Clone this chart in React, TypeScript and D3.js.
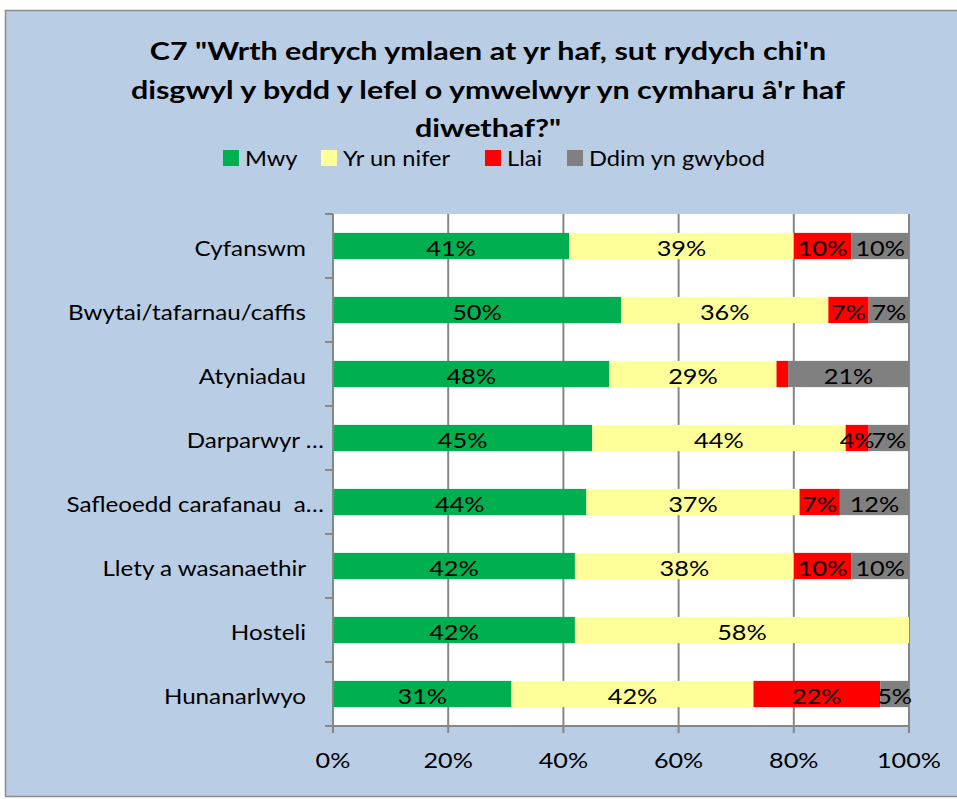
import React from "react";
import * as d3 from "d3";

const categories = [
  "Cyfanswm",
  "Bwytai/tafarnau/caffis ",
  "Atyniadau",
  "Darparwyr …",
  "Safleoedd carafanau  a…",
  "Llety a wasanaethir ",
  "Hosteli",
  "Hunanarlwyo",
];
const seriesNames = ["Mwy", "Yr un nifer", "Llai", "Ddim yn gwybod"];
const seriesColors = ["#00B050", "#FFFF99", "#FF0000", "#808080"];
const mwy = [41, 50, 48, 45, 44, 42, 42, 31];
const yrUnNifer = [39, 36, 29, 44, 37, 38, 58, 42];
const llai = [10, 7, 2, 4, 7, 10, 0, 22];
const ddimYnGwybod = [10, 7, 21, 7, 12, 10, 0, 5];
const showLabel = [
  [true, true, true, true],
  [true, true, true, true],
  [true, true, false, true],
  [true, true, true, true],
  [true, true, true, true],
  [true, true, true, true],
  [true, true, false, false],
  [true, true, true, true],
];
const xTicks = [0, 0.2, 0.4, 0.6, 0.8, 1];
const titleLines = [
  'C7 "Wrth edrych ymlaen at yr haf, sut rydych chi\'n',
  "disgwyl y bydd y lefel o ymwelwyr yn cymharu â'r haf",
  'diwethaf?"',
];

const FONT = "Lato, 'Open Sans', sans-serif";

function T({
  x,
  y,
  sx = 1.1,
  size,
  anchor = "start",
  bold = false,
  children,
}: {
  x: number;
  y: number;
  sx?: number;
  size: number;
  anchor?: string;
  bold?: boolean;
  children: any;
}) {
  return (
    <text
      transform={`translate(${x},${y}) scale(${sx},1)`}
      textAnchor={anchor as any}
      fontFamily={FONT}
      fontWeight={bold ? "bold" : "normal"}
      fontSize={size}
      fill="#000"
      xmlSpace="preserve"
      style={{ whiteSpace: "pre" }}
    >
      {children}
    </text>
  );
}

export default function App() {
  const W = 957;
  const H = 799;
  const plot = { left: 333, right: 909, top: 214, bottom: 726 };
  const x = d3.scaleLinear().domain([0, 1]).range([plot.left, plot.right]);
  const y = d3
    .scaleBand<string>()
    .domain(categories.map((c, i) => String(i)))
    .range([plot.top, plot.bottom])
    .paddingInner(0.59)
    .paddingOuter(0.295);

  const table = categories.map((c, i) => ({
    key: String(i),
    label: c,
    Mwy: mwy[i] / 100,
    "Yr un nifer": yrUnNifer[i] / 100,
    Llai: llai[i] / 100,
    "Ddim yn gwybod": ddimYnGwybod[i] / 100,
  }));
  const stacked = d3.stack<any>().keys(seriesNames)(table);
  const band = (plot.bottom - plot.top) / categories.length;

  const legendX = [223, 321, 485, 567];

  return (
    <svg
      width={W}
      height={H}
      style={{ position: "absolute", left: 0, top: 0, background: "#fff" }}
    >
      <rect x={5.5} y={10.5} width={970} height={786} fill="#B9CDE5" stroke="#8C8C8C" strokeWidth={1.5} />
      {titleLines.map((t, i) => (
        <T key={i} x={488} y={60 + i * 38.5} sx={1.22} size={25} anchor="middle" bold>
          {t}
        </T>
      ))}
      {seriesNames.map((s, i) => (
        <g key={s}>
          <rect x={legendX[i]} y={150} width={16} height={16} fill={seriesColors[i]} />
          <T x={legendX[i] + 22} y={166} sx={1.1} size={21.5}>
            {s}
          </T>
        </g>
      ))}
      <rect x={plot.left} y={plot.top} width={plot.right - plot.left} height={plot.bottom - plot.top} fill="#fff" />
      {xTicks.map((t) => (
        <line key={"g" + t} x1={x(t)} x2={x(t)} y1={plot.top} y2={plot.bottom + 7} stroke="#868686" strokeWidth={2} />
      ))}
      {stacked.map((layer, si) =>
        layer.map((d, ci) => {
          const w = x(d[1]) - x(d[0]);
          if (w <= 0) return null;
          return (
            <rect
              key={si + "-" + ci}
              x={x(d[0])}
              y={y(String(ci))}
              width={w}
              height={y.bandwidth()}
              fill={seriesColors[si]}
            />
          );
        })
      )}
      {stacked.map((layer, si) =>
        layer.map((d, ci) => {
          if (!showLabel[ci][si]) return null;
          const v = d[1] - d[0];
          if (v <= 0) return null;
          return (
            <T
              key={"l" + si + "-" + ci}
              x={(x(d[0]) + x(d[1])) / 2}
              y={(y(String(ci)) as number) + y.bandwidth() / 2 + 10}
              sx={1.15}
              size={22}
              anchor="middle"
            >
              {Math.round(v * 100) + "%"}
            </T>
          );
        })
      )}
      <line x1={plot.left} x2={plot.left} y1={plot.top} y2={plot.bottom} stroke="#868686" strokeWidth={2} />
      <line x1={plot.left - 8} x2={plot.right} y1={plot.bottom} y2={plot.bottom} stroke="#868686" strokeWidth={2} />
      {d3.range(categories.length + 1).map((i) => (
        <line
          key={"yt" + i}
          x1={plot.left - 8}
          x2={plot.left}
          y1={plot.top + i * band}
          y2={plot.top + i * band}
          stroke="#868686"
          strokeWidth={2}
        />
      ))}
      {categories.map((c, i) => (
        <T
          key={"c" + i}
          x={c.endsWith("…") ? 324 : 306}
          y={(y(String(i)) as number) + y.bandwidth() / 2 + 10}
          sx={1.1}
          size={22}
          anchor="end"
        >
          {c.trimEnd()}
        </T>
      ))}
      {xTicks.map((t) => (
        <T key={"xt" + t} x={x(t)} y={768} sx={1.2} size={21} anchor="middle">
          {d3.format(".0%")(t)}
        </T>
      ))}
    </svg>
  );
}
